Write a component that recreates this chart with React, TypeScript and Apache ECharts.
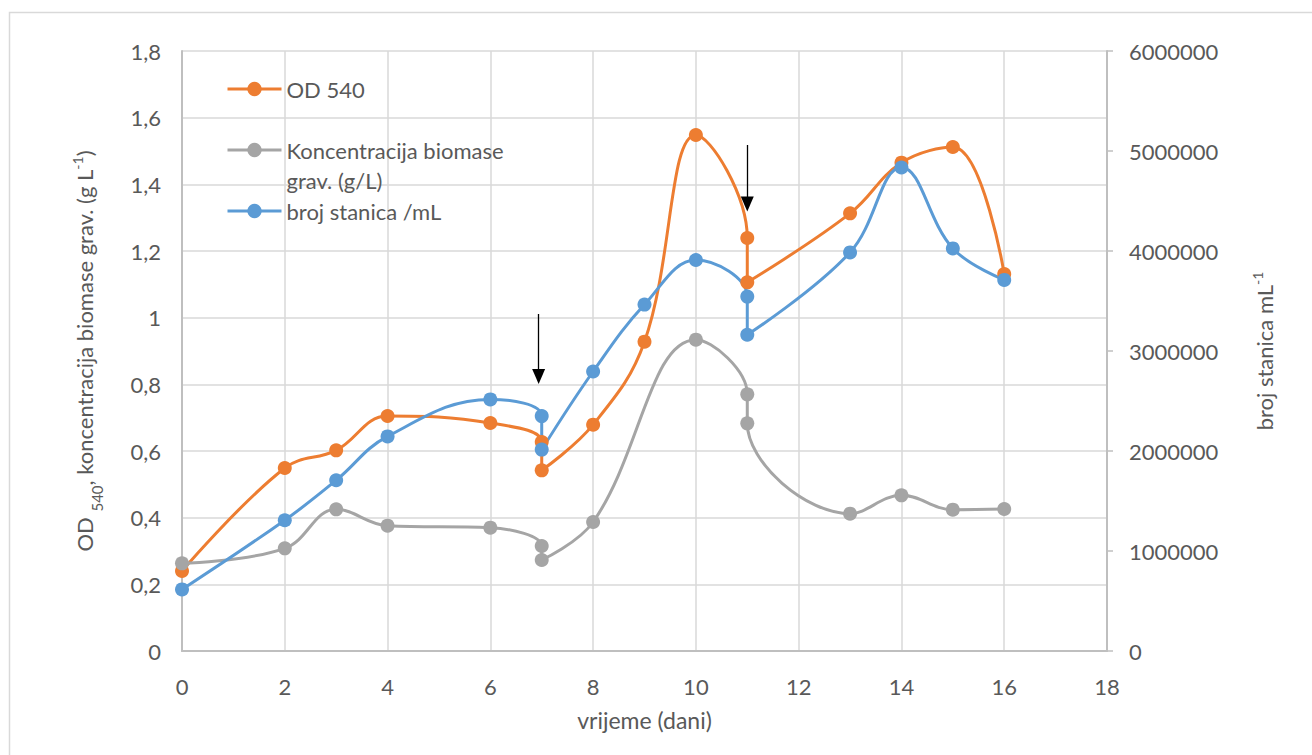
import React, { useEffect, useRef } from "react";
import * as echarts from "echarts";

const odDays = [0, 2, 3, 4, 6, 7, 7, 8, 9, 10, 11, 11, 13, 14, 15, 16];
const odValues = [0.24, 0.549, 0.602, 0.705, 0.684, 0.627, 0.542, 0.679, 0.928, 1.548, 1.239, 1.106, 1.313, 1.465, 1.512, 1.131];

const bioDays = [0, 2, 3, 4, 6, 7, 7, 8, 10, 11, 11, 13, 14, 15, 16];
const bioValues = [0.263, 0.308, 0.425, 0.376, 0.37, 0.315, 0.273, 0.387, 0.934, 0.77, 0.683, 0.412, 0.467, 0.424, 0.426];

const cellDays = [0, 2, 3, 4, 6, 7, 7, 8, 9, 10, 11, 11, 13, 14, 15, 16];
const cellValues = [616000, 1308000, 1707000, 2146000, 2516000, 2349000, 2014000, 2795000, 3464000, 3910000, 3544000, 3162000, 3986000, 4835000, 4026000, 3711000];

// arrows (day, start value, end value) on left axis
const arrowDays = [6.94, 11.0];
const arrowTop = [1.011, 1.518];
const arrowEnd = [0.8235, 1.341];

const seriesNames = ["OD 540", "Koncentracija biomase grav. (g/L)", "broj stanica /mL"];

const FONT = "Lato, 'Open Sans', sans-serif";
const TXT = "#595959";
const FS = 22;

const zip = (xs: number[], ys: number[]) => xs.map((x, i) => [x, ys[i]]);

export default function App() {
  const ref = useRef<HTMLDivElement>(null);
  useEffect(() => {
    if (!ref.current) return;
    const chart = echarts.init(ref.current, undefined, { renderer: "svg" });
    const legendBase = {
      orient: "vertical",
      left: 226,
      padding: 0,
      itemWidth: 54,
      itemHeight: 18,
      itemGap: 6,
      selectedMode: false,
      lineStyle: { width: 3 },
      textStyle: { color: TXT, fontSize: FS, fontFamily: FONT, lineHeight: 26 },
    };
    const option: any = {
      animation: false,
      textStyle: { fontFamily: FONT },
      graphic: [
        {
          type: "rect",
          shape: { x: 9.5, y: 12.5, width: 1400, height: 900 },
          style: { fill: "none", stroke: "#D9D9D9", lineWidth: 1.5 },
          silent: true,
        },
      ],
      grid: { left: 182, right: 205, top: 51, bottom: 104, containLabel: false },
      legend: [
        { ...legendBase, top: 76, data: [seriesNames[0]] },
        {
          ...legendBase,
          top: 105,
          data: [seriesNames[1]],
          formatter: () => " \nKoncentracija biomase\ngrav. (g/L)",
          textStyle: { ...legendBase.textStyle, lineHeight: 30 },
        },
        { ...legendBase, top: 198, data: [seriesNames[2]] },
      ],
      xAxis: {
        type: "value",
        min: 0,
        max: 18,
        interval: 2,
        name: "vrijeme (dani)",
        nameLocation: "middle",
        nameGap: 57,
        nameTextStyle: { color: TXT, fontSize: FS + 1, fontFamily: FONT },
        axisLine: { show: true, lineStyle: { color: "#BFBFBF", width: 2 } },
        axisTick: { show: false },
        axisLabel: { color: TXT, fontSize: FS, fontFamily: FONT, margin: 24 },
        splitLine: { show: true, lineStyle: { color: "#D9D9D9", width: 1.5 } },
      },
      yAxis: [
        {
          type: "value",
          min: 0,
          max: 1.8,
          interval: 0.2,
          position: "left",
          name: "{a|OD }{s|540}{a|, koncentracija biomase grav. (g L}{p|-1}{a|)}",
          nameLocation: "middle",
          nameRotate: 90,
          nameGap: 84,
          nameTextStyle: {
            color: TXT,
            fontSize: FS,
            fontFamily: FONT,
            rich: {
              a: { color: TXT, fontSize: FS, fontFamily: FONT, lineHeight: 28 },
              s: { color: TXT, fontSize: 15, fontFamily: FONT, lineHeight: 28, verticalAlign: "bottom", padding: [0, 0, -6, 0] },
              p: { color: TXT, fontSize: 14, fontFamily: FONT, lineHeight: 28, verticalAlign: "top" },
            },
          },
          axisLine: { show: true, lineStyle: { color: "#BFBFBF", width: 2 } },
          axisTick: { show: false },
          axisLabel: {
            color: TXT,
            fontSize: FS,
            fontFamily: FONT,
            margin: 21,
            formatter: (v: number) => String(Number(v.toFixed(1))).replace(".", ","),
          },
          splitLine: { show: true, lineStyle: { color: "#D9D9D9", width: 1.5 } },
        },
        {
          type: "value",
          min: 0,
          max: 6000000,
          interval: 1000000,
          position: "right",
          name: "{a|broj stanica mL}{p|-1}",
          nameLocation: "middle",
          nameRotate: 90,
          nameGap: 143,
          nameTextStyle: {
            color: TXT,
            fontSize: FS,
            fontFamily: FONT,
            rich: {
              a: { color: TXT, fontSize: FS, fontFamily: FONT, lineHeight: 28 },
              p: { color: TXT, fontSize: 14, fontFamily: FONT, lineHeight: 28, verticalAlign: "top" },
            },
          },
          axisLine: { show: true, lineStyle: { color: "#BFBFBF", width: 2 } },
          axisTick: { show: true, length: 6, lineStyle: { color: "#BFBFBF", width: 1.5 } },
          axisLabel: {
            color: TXT,
            fontSize: FS,
            fontFamily: FONT,
            margin: 22,
            formatter: (v: number) => String(v),
          },
          splitLine: { show: false },
        },
      ],
      series: [
        {
          name: seriesNames[0],
          type: "line",
          yAxisIndex: 0,
          data: zip(odDays, odValues),
          smooth: 0.4,
          symbol: "circle",
          symbolSize: 14,
          lineStyle: { color: "#ED7D31", width: 3 },
          itemStyle: { color: "#ED7D31" },
        },
        {
          name: seriesNames[1],
          type: "line",
          yAxisIndex: 0,
          data: zip(bioDays, bioValues),
          smooth: 0.4,
          symbol: "circle",
          symbolSize: 14,
          lineStyle: { color: "#A5A5A5", width: 3 },
          itemStyle: { color: "#A5A5A5" },
          markLine: {
            silent: true,
            symbol: ["none", "triangle"],
            symbolSize: [13, 15],
            label: { show: false },
            lineStyle: { color: "#000000", width: 1.3, type: "solid" },
            data: arrowDays.map((d, i) => [
              { coord: [d, arrowTop[i]] },
              { coord: [d, arrowEnd[i]] },
            ]),
          },
        },
        {
          name: seriesNames[2],
          type: "line",
          yAxisIndex: 1,
          data: zip(cellDays, cellValues),
          smooth: 0.4,
          symbol: "circle",
          symbolSize: 14,
          lineStyle: { color: "#5B9BD5", width: 3 },
          itemStyle: { color: "#5B9BD5" },
        },
      ],
    };
    chart.setOption(option);
    return () => chart.dispose();
  }, []);
  return (
    <div
      ref={ref}
      style={{ position: "absolute", left: 0, top: 0, width: 1312, height: 755, background: "#fff" }}
    />
  );
}
